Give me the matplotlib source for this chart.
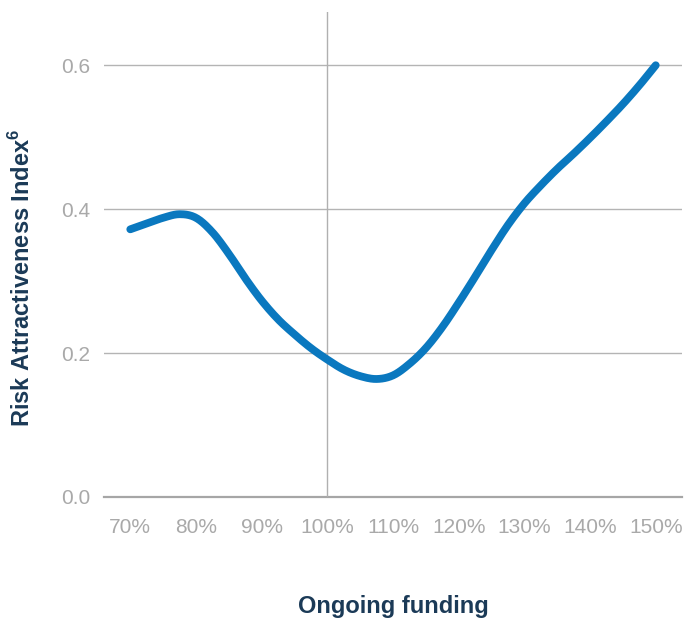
import numpy as np
import matplotlib
matplotlib.use("Agg")
import matplotlib.pyplot as plt

plt.rcParams['font.family'] = ['Liberation Sans', 'DejaVu Sans']

funding = [70, 72.5, 75, 77.5, 80, 82.5, 85, 87.5, 90, 92.5, 95, 97.5, 100,
           102.5, 105, 107.5, 110, 112.5, 115, 117.5, 120, 122.5, 125, 127.5,
           130, 132.5, 135, 137.5, 140, 142.5, 145, 147.5, 150]
index_vals = [0.372, 0.380, 0.388, 0.393, 0.388, 0.368, 0.338, 0.304, 0.273,
              0.247, 0.226, 0.207, 0.191, 0.177, 0.168, 0.164, 0.169, 0.185,
              0.207, 0.236, 0.270, 0.306, 0.343, 0.378, 0.408, 0.433, 0.456,
              0.477, 0.499, 0.522, 0.546, 0.572, 0.600]
x_ticks = [70, 80, 90, 100, 110, 120, 130, 140, 150]
x_labels = ['70%', '80%', '90%', '100%', '110%', '120%', '130%', '140%', '150%']
y_ticks = [0.0, 0.2, 0.4, 0.6]
y_labels = ['0.0', '0.2', '0.4', '0.6']


def smooth(x, y, n=12):
    # Catmull-Rom rendering of the line through the read points
    x = np.asarray(x, float); y = np.asarray(y, float)
    px = np.concatenate([[2*x[0]-x[1]], x, [2*x[-1]-x[-2]]])
    py = np.concatenate([[2*y[0]-y[1]], y, [2*y[-1]-y[-2]]])
    xs, ys = [], []
    t = np.linspace(0, 1, n, endpoint=False)
    for i in range(1, len(px)-2):
        for P, out in ((px, xs), (py, ys)):
            p0, p1, p2, p3 = P[i-1], P[i], P[i+1], P[i+2]
            out.extend(0.5*((2*p1) + (-p0+p2)*t + (2*p0-5*p1+4*p2-p3)*t**2
                            + (-p0+3*p1-3*p2+p3)*t**3))
    xs.append(x[-1]); ys.append(y[-1])
    return np.array(xs), np.array(ys)


fig = plt.figure(figsize=(6.98, 6.21), dpi=100)
ax = fig.add_axes([104/698, (621-497)/621, (682-104)/698, (497-12)/621])

ax.set_xlim(66, 154)
ax.set_ylim(0, 0.674)

for yv in y_ticks[1:]:
    ax.axhline(yv, color='#b4b4b4', lw=1.0, zorder=1)
ax.axhline(0, color='#a6a6a6', lw=1.6, zorder=1, clip_on=False)
ax.axvline(100, color='#b0b0b0', lw=1.0, zorder=1)

sx, sy = smooth(funding, index_vals)
ax.plot(sx, sy, color='#0a78bf', lw=5.6, solid_capstyle='round', zorder=3)

for s in ax.spines.values():
    s.set_visible(False)
ax.set_xticks(x_ticks)
ax.set_xticklabels(x_labels)
ax.set_yticks(y_ticks)
ax.set_yticklabels(y_labels)
ax.tick_params(length=0, colors='#a9a9a9', labelsize=15)
ax.tick_params(axis='x', pad=15)
ax.tick_params(axis='y', pad=10)

fig.text(393/698, 1-606/621, 'Ongoing funding', ha='center', va='center',
         fontsize=17, fontweight='bold', color='#1b3a57')
fig.text(22/698, 1-278/621, 'Risk Attractiveness Index$^{\\mathregular{6}}$', ha='center',
         va='center', rotation=90, fontsize=17, fontweight='bold', color='#1b3a57')

fig.savefig('out.png', dpi=100, facecolor='white')
